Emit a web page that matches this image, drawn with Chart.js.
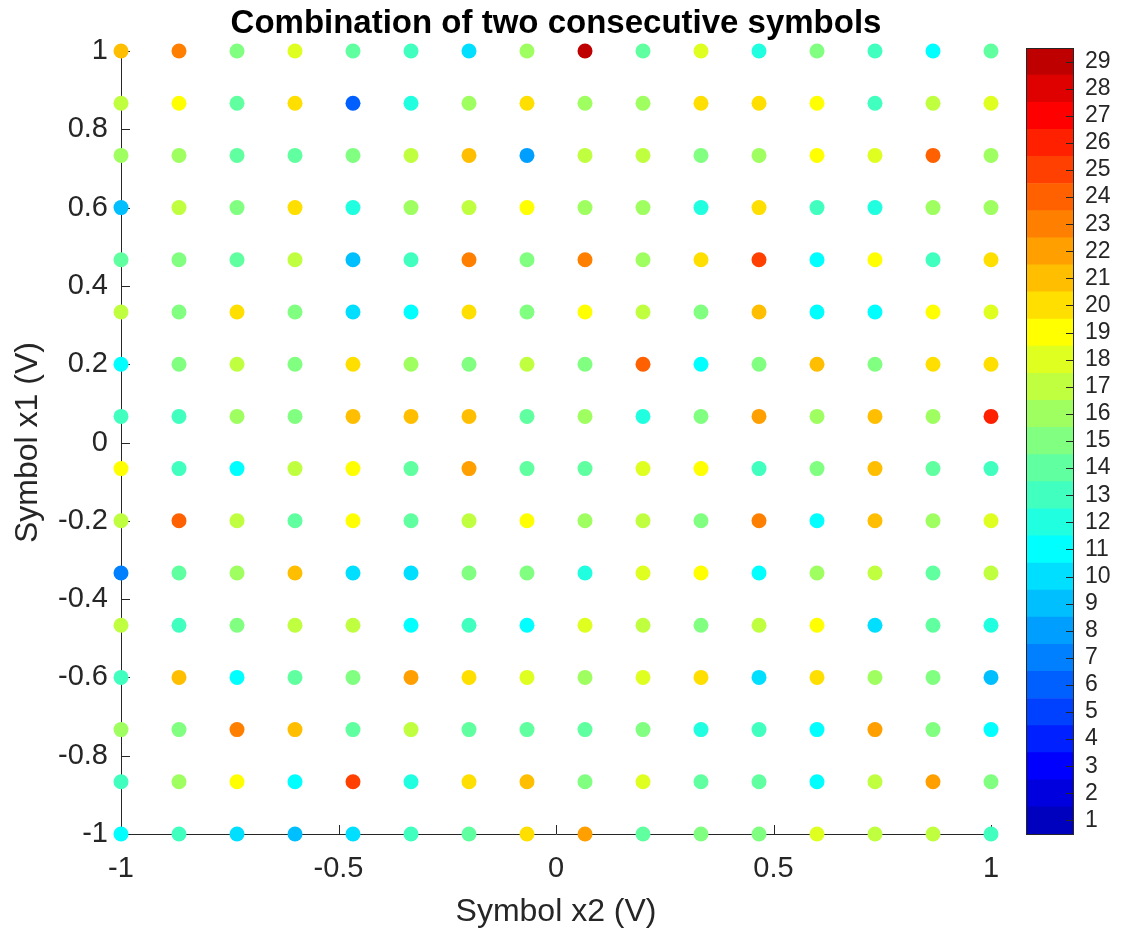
<!DOCTYPE html>
<html>
<head>
<meta charset="utf-8">
<script src="https://cdn.jsdelivr.net/npm/chart.js@4/dist/chart.umd.min.js"></script>
<style>
  body { margin: 0; background: #fff; }
  #wrap { position: relative; width: 1122px; height: 931px; }
  #wrap canvas { position: absolute; left: 0; top: 0; }
</style>
</head>
<body>
<div id="wrap">
  <canvas id="mainChart" width="1122" height="931"></canvas>
  <canvas id="barChart" width="1122" height="931"></canvas>
</div>
<script>
// grid positions of symbol x2 (columns) and x1 (rows, top to bottom)
const xVals = [-1, -0.8667, -0.7333, -0.6, -0.4667, -0.3333, -0.2, -0.0667, 0.0667, 0.2, 0.3333, 0.4667, 0.6, 0.7333, 0.8667, 1];
const yVals = [1, 0.8667, 0.7333, 0.6, 0.4667, 0.3333, 0.2, 0.0667, -0.0667, -0.2, -0.3333, -0.4667, -0.6, -0.7333, -0.8667, -1];

// number of occurrences of each combination, one row per x1 value
const counts = [
  [21, 23, 15, 18, 14, 13, 10, 16, 29, 14, 18, 12, 15, 13, 11, 14],
  [17, 19, 14, 20, 6, 12, 16, 20, 16, 16, 20, 20, 19, 13, 17, 18],
  [16, 16, 14, 14, 15, 17, 21, 8, 17, 17, 15, 16, 19, 18, 24, 16],
  [9, 17, 15, 20, 12, 16, 17, 19, 16, 16, 12, 20, 13, 12, 16, 16],
  [14, 15, 14, 17, 9, 13, 23, 15, 23, 16, 20, 25, 11, 19, 13, 20],
  [17, 15, 20, 15, 10, 11, 20, 15, 19, 17, 15, 21, 11, 11, 19, 18],
  [11, 15, 17, 15, 20, 16, 15, 17, 15, 24, 11, 15, 21, 15, 20, 20],
  [13, 13, 16, 15, 21, 21, 21, 14, 16, 12, 15, 22, 16, 21, 16, 26],
  [19, 13, 11, 17, 19, 14, 22, 14, 14, 18, 19, 13, 15, 21, 14, 13],
  [17, 24, 17, 14, 19, 14, 17, 19, 16, 17, 15, 23, 11, 21, 16, 18],
  [7, 14, 16, 21, 10, 10, 15, 15, 12, 18, 19, 11, 16, 17, 14, 17],
  [17, 13, 15, 17, 17, 11, 13, 11, 18, 17, 15, 17, 19, 10, 14, 12],
  [13, 21, 11, 14, 15, 22, 20, 18, 16, 18, 20, 10, 20, 16, 15, 9],
  [16, 15, 23, 21, 14, 17, 14, 14, 14, 15, 12, 13, 11, 22, 15, 11],
  [13, 16, 19, 11, 25, 12, 20, 21, 15, 18, 14, 14, 11, 17, 22, 15],
  [11, 13, 10, 9, 10, 13, 14, 20, 22, 14, 15, 15, 18, 17, 17, 13]
];

const xTicks = [-1, -0.5, 0, 0.5, 1];
const yTicks = [-1, -0.8, -0.6, -0.4, -0.2, 0, 0.2, 0.4, 0.6, 0.8, 1];
const barTicks = [1, 2, 3, 4, 5, 6, 7, 8, 9, 10, 11, 12, 13, 14, 15, 16, 17, 18, 19, 20, 21, 22, 23, 24, 25, 26, 27, 28, 29];

const FONT = "'Liberation Sans', Arial, Helvetica, sans-serif";
const AXIS = '#262626';

// matlab style jet colormap with m levels
function jet(m) {
  const n = Math.ceil(m / 4);
  const u = [];
  for (let i = 1; i <= n; i++) u.push(i / n);
  for (let i = 1; i < n; i++) u.push(1);
  for (let i = n; i >= 1; i--) u.push(i / n);
  const off = Math.ceil(n / 2) - (m % 4 === 1 ? 1 : 0);
  const J = Array.from({length: m}, () => [0, 0, 0]);
  u.forEach((val, i) => {
    const g = off + i + 1, r = g + n, b = g - n;
    if (g <= m) J[g - 1][1] = val;
    if (r <= m) J[r - 1][0] = val;
    if (b >= 1) J[b - 1][2] = val;
  });
  return J.map(c => 'rgb(' + c.map(v => Math.round(v * 255)).join(',') + ')');
}
const cmap = jet(barTicks.length);
const colorFor = v => cmap[v - barTicks[0]];

// scatter points
const points = [];
const pointColors = [];
yVals.forEach((yv, i) => {
  xVals.forEach((xv, j) => {
    points.push({x: xv, y: yv});
    pointColors.push(colorFor(counts[i][j]));
  });
});

// matlab style ticks pointing into the axes
const inwardTicks = {
  id: 'inwardTicks',
  beforeDatasetsDraw(chart) {
    const {ctx, chartArea: a, scales: {x, y}} = chart;
    ctx.save();
    ctx.strokeStyle = AXIS;
    ctx.lineWidth = 1;
    ctx.beginPath();
    x.ticks.forEach(t => {
      const px = Math.round(x.getPixelForValue(t.value)) + 0.5;
      ctx.moveTo(px, a.bottom);
      ctx.lineTo(px, a.bottom - 9);
    });
    y.ticks.forEach(t => {
      const py = Math.round(y.getPixelForValue(t.value)) + 0.5;
      ctx.moveTo(a.left, py);
      ctx.lineTo(a.left + 9, py);
    });
    ctx.stroke();
    ctx.restore();
  }
};

new Chart(document.getElementById('mainChart'), {
  type: 'scatter',
  data: {
    datasets: [{
      data: points,
      pointBackgroundColor: pointColors,
      pointBorderWidth: 0,
      pointRadius: 7.5,
      pointHoverRadius: 7.5,
      clip: false
    }]
  },
  options: {
    responsive: false,
    animation: false,
    events: [],
    layout: { padding: { left: 0, right: 131, top: 0, bottom: 0 } },
    plugins: {
      legend: { display: false },
      tooltip: { enabled: false },
      title: {
        display: true,
        text: 'Combination of two consecutive symbols',
        color: '#000',
        fullSize: false,
        font: { family: FONT, size: 33, weight: 'bold' },
        padding: { top: 4, bottom: 7.4 }
      }
    },
    scales: {
      x: {
        type: 'linear',
        min: -1, max: 1,
        afterBuildTicks: s => { s.ticks = xTicks.map(v => ({value: v})); },
        afterFit: s => { s.height = 97; },
        grid: { display: false, drawTicks: false },
        border: { display: true, color: AXIS, width: 1 },
        ticks: { color: AXIS, font: { family: FONT, size: 29 }, padding: 18, maxRotation: 0, autoSkip: false, callback: v => String(v) },
        title: { display: true, text: 'Symbol x2 (V)', color: AXIS, font: { family: FONT, size: 32 }, padding: { top: 0, bottom: 0 } }
      },
      y: {
        type: 'linear',
        min: -1, max: 1,
        afterBuildTicks: s => { s.ticks = yTicks.map(v => ({value: v})); },
        afterFit: s => { s.width = 121; },
        grid: { display: false, drawTicks: false },
        border: { display: true, color: AXIS, width: 1 },
        ticks: { color: AXIS, font: { family: FONT, size: 29 }, padding: 13, autoSkip: false, callback: v => String(v) },
        title: { display: true, text: 'Symbol x1 (V)', color: AXIS, font: { family: FONT, size: 32 }, padding: { top: 9, bottom: 0 } }
      }
    }
  },
  plugins: [inwardTicks]
});

// colour bar: one floating bar segment per level
const barFrame = {
  id: 'barFrame',
  afterDatasetsDraw(chart) {
    const {ctx, chartArea: a, scales: {y}} = chart;
    ctx.save();
    ctx.strokeStyle = AXIS;
    ctx.lineWidth = 1;
    ctx.beginPath();
    y.ticks.forEach(t => {
      const py = Math.round(y.getPixelForValue(t.value)) + 0.5;
      ctx.moveTo(a.right, py);
      ctx.lineTo(a.right - 8, py);
    });
    ctx.stroke();
    ctx.strokeRect(Math.round(a.left) + 0.5, Math.round(a.top) + 0.5, Math.round(a.right - a.left) - 1, Math.round(a.bottom - a.top));
    ctx.restore();
  }
};

new Chart(document.getElementById('barChart'), {
  type: 'bar',
  data: {
    labels: ['level'],
    datasets: barTicks.map(v => ({
      data: [[v - 0.5, v + 0.5]],
      backgroundColor: colorFor(v),
      borderWidth: 0,
      grouped: false,
      barPercentage: 1,
      categoryPercentage: 1
    }))
  },
  options: {
    responsive: false,
    animation: false,
    events: [],
    layout: { padding: { left: 1026, right: 0, top: 48, bottom: 97 } },
    plugins: { legend: { display: false }, tooltip: { enabled: false }, title: { display: false } },
    scales: {
      x: { display: false },
      y: {
        position: 'right',
        min: 0.5, max: 29.5,
        afterBuildTicks: s => { s.ticks = barTicks.map(v => ({value: v})); },
        afterFit: s => { s.width = 48; },
        grid: { display: false, drawTicks: false },
        border: { display: false },
        ticks: { color: AXIS, font: { family: FONT, size: 23 }, padding: 11, autoSkip: false }
      }
    }
  },
  plugins: [barFrame]
});
</script>
</body>
</html>
